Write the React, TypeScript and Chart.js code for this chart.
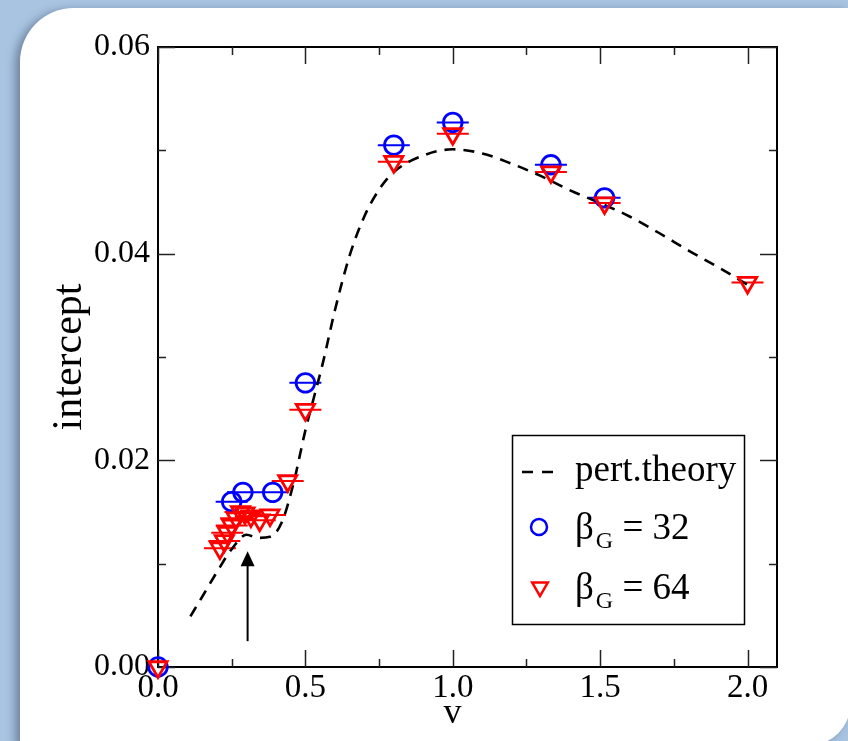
import React, { useEffect, useRef } from "react";
import { Chart, registerables } from "chart.js";

Chart.register(...registerables);

// ---- data ----
const V_32 = [0, 0.25, 0.288, 0.389, 0.5, 0.8, 1.0, 1.333, 1.515];
const INTERCEPT_32 = [0, 0.016, 0.0169, 0.0169, 0.0275, 0.0505, 0.0527, 0.0486, 0.0454];

const V_64 = [0, 0.21, 0.225, 0.235, 0.25, 0.265, 0.28, 0.295, 0.315, 0.345, 0.38, 0.44, 0.5, 0.8, 1.0, 1.333, 1.515, 2.0];
const INTERCEPT_64 = [0, 0.0115, 0.0122, 0.013, 0.0137, 0.0144, 0.015, 0.0149, 0.0146, 0.0142, 0.0147, 0.018, 0.0249, 0.0489, 0.0516, 0.0479, 0.0449, 0.0372];

const V_THEORY = [0.11, 0.15, 0.2, 0.25, 0.3, 0.34, 0.38, 0.42, 0.46, 0.5, 0.53, 0.56, 0.6, 0.65, 0.7, 0.75, 0.8, 0.9, 1.0, 1.1, 1.2, 1.3, 1.4, 1.5, 1.6, 1.7, 1.8, 1.9, 2.0];
const INTERCEPT_THEORY = [0.0049, 0.0068, 0.0092, 0.0114, 0.0128, 0.0125, 0.0126, 0.014, 0.0178, 0.0229, 0.0262, 0.0295, 0.0345, 0.0398, 0.0436, 0.0462, 0.0479, 0.0495, 0.0501, 0.0497, 0.0487, 0.0475, 0.0461, 0.0449, 0.0436, 0.042, 0.0403, 0.0387, 0.037];

const X_TICKS = [0, 0.5, 1.0, 1.5, 2.0];
const X_MINOR = [0.25, 0.75, 1.25, 1.75];
const Y_TICKS = [0, 0.02, 0.04, 0.06];
const Y_MINOR = [0.01, 0.03, 0.05];

const ARROW_V = 0.304;
const ARROW_FROM = 0.0025;
const ARROW_TO = 0.0112;

const LEGEND_THEORY = "pert.theory";
const LEGEND_BETA = "β";
const LEGEND_SUB = "G";
const LEGEND_32 = " = 32";
const LEGEND_64 = " = 64";
const X_TITLE = "v";
const Y_TITLE = "intercept";

const SERIF = '"Liberation Serif", "Times New Roman", Times, serif';
const BLUE = "#0000ff";
const RED = "#ff0000";

const CAP = 16;
const MAJOR = 17;
const MINOR = 8;

const decorPlugin = {
  id: "decor",
  beforeDatasetsDraw(chart: any) {
    const { ctx, chartArea: a } = chart;
    const xs = chart.scales.x;
    const ys = chart.scales.y;
    ctx.save();
    // frame
    ctx.strokeStyle = "#000";
    ctx.lineWidth = 2;
    ctx.strokeRect(a.left, a.top, a.right - a.left, a.bottom - a.top);
    // ticks
    ctx.lineWidth = 1.5;
    ctx.strokeStyle = "#222";
    ctx.beginPath();
    const xt = (vals: number[], len: number) => {
      vals.forEach((v) => {
        const px = Math.round(xs.getPixelForValue(v)) + 0.5;
        ctx.moveTo(px, a.bottom);
        ctx.lineTo(px, a.bottom - len);
        ctx.moveTo(px, a.top);
        ctx.lineTo(px, a.top + len);
      });
    };
    const yt = (vals: number[], len: number) => {
      vals.forEach((v) => {
        const py = Math.round(ys.getPixelForValue(v)) + 0.5;
        ctx.moveTo(a.left, py);
        ctx.lineTo(a.left + len, py);
        ctx.moveTo(a.right, py);
        ctx.lineTo(a.right - len, py);
      });
    };
    xt(X_TICKS, MAJOR);
    xt(X_MINOR, MINOR);
    yt(Y_TICKS, MAJOR);
    yt(Y_MINOR, MINOR);
    ctx.stroke();

    // arrow
    const ax = xs.getPixelForValue(ARROW_V);
    const ay0 = ys.getPixelForValue(ARROW_FROM);
    const ay1 = ys.getPixelForValue(ARROW_TO);
    ctx.strokeStyle = "#000";
    ctx.fillStyle = "#000";
    ctx.lineWidth = 2;
    ctx.beginPath();
    ctx.moveTo(ax, ay0);
    ctx.lineTo(ax, ay1 + 12);
    ctx.stroke();
    ctx.beginPath();
    ctx.moveTo(ax, ay1);
    ctx.lineTo(ax - 7, ay1 + 15);
    ctx.lineTo(ax + 7, ay1 + 15);
    ctx.closePath();
    ctx.fill();

    // error-bar caps
    ctx.lineWidth = 2;
    const caps = (xv: number[], yv: number[], color: string) => {
      ctx.strokeStyle = color;
      ctx.beginPath();
      xv.forEach((v, i) => {
        const px = xs.getPixelForValue(v);
        const py = ys.getPixelForValue(yv[i]);
        ctx.moveTo(px - CAP, py);
        ctx.lineTo(px + CAP, py);
      });
      ctx.stroke();
    };
    caps(V_32.slice(1), INTERCEPT_32.slice(1), BLUE);
    caps(V_64.slice(1), INTERCEPT_64.slice(1), RED);
    ctx.restore();
  },
  afterDatasetsDraw(chart: any) {
    const { ctx, chartArea: a } = chart;
    ctx.save();
    // x title
    ctx.fillStyle = "#000";
    ctx.font = `36px ${SERIF}`;
    ctx.textAlign = "center";
    ctx.textBaseline = "middle";
    ctx.fillText(X_TITLE, (a.left + a.right) / 2 - 15, a.bottom + 47);

    // legend
    const bx = a.right - 265;
    const by = a.bottom - 232;
    const bw = 232;
    const bh = 189;
    ctx.fillStyle = "#fff";
    ctx.fillRect(bx, by, bw, bh);
    ctx.strokeStyle = "#000";
    ctx.lineWidth = 1.5;
    ctx.strokeRect(bx + 0.5, by + 0.5, bw, bh);

    const r1 = by + 37;
    const r2 = by + 92;
    const r3 = by + 152;
    const tx = bx + 63;

    ctx.lineWidth = 2.5;
    ctx.setLineDash([11, 9]);
    ctx.beginPath();
    ctx.moveTo(bx + 10, r1);
    ctx.lineTo(bx + 43, r1);
    ctx.stroke();
    ctx.setLineDash([]);

    ctx.fillStyle = "#000";
    ctx.textAlign = "left";
    ctx.textBaseline = "middle";
    ctx.font = `37px ${SERIF}`;
    ctx.fillText(LEGEND_THEORY, tx, r1 - 1);

    // circle
    ctx.strokeStyle = BLUE;
    ctx.lineWidth = 2.5;
    ctx.beginPath();
    ctx.arc(bx + 27, r2, 8, 0, Math.PI * 2);
    ctx.stroke();
    // triangle
    const tr = 9;
    const tcx = bx + 28;
    ctx.strokeStyle = RED;
    ctx.beginPath();
    ctx.moveTo(tcx, r3 + tr);
    ctx.lineTo(tcx - tr * 0.866, r3 - tr * 0.5);
    ctx.lineTo(tcx + tr * 0.866, r3 - tr * 0.5);
    ctx.closePath();
    ctx.stroke();

    const betaRow = (y: number, rest: string) => {
      ctx.textBaseline = "alphabetic";
      ctx.fillStyle = "#000";
      ctx.font = `37px ${SERIF}`;
      const base = y + 12;
      ctx.fillText(LEGEND_BETA, tx, base);
      let x = tx + ctx.measureText(LEGEND_BETA).width + 2;
      ctx.font = `24px ${SERIF}`;
      ctx.fillText(LEGEND_SUB, x, base + 9);
      x += ctx.measureText(LEGEND_SUB).width;
      ctx.font = `37px ${SERIF}`;
      ctx.fillText(rest, x, base);
    };
    betaRow(r2, LEGEND_32);
    betaRow(r3, LEGEND_64);
    ctx.restore();
  },
};

export default function App() {
  const ref = useRef<HTMLCanvasElement | null>(null);

  useEffect(() => {
    if (!ref.current) return;
    const chart = new Chart(ref.current, {
      type: "scatter",
      data: {
        datasets: [
          {
            label: "beta64",
            data: V_64.map((x, i) => ({ x, y: INTERCEPT_64[i] })),
            pointStyle: "triangle",
            rotation: 180,
            pointRadius: 10.5,
            borderColor: RED,
            backgroundColor: "rgba(0,0,0,0)",
            borderWidth: 2.8,
            clip: false,
            order: 1,
          } as any,
          {
            label: "beta32",
            data: V_32.map((x, i) => ({ x, y: INTERCEPT_32[i] })),
            pointStyle: "circle",
            pointRadius: 9.3,
            borderColor: BLUE,
            backgroundColor: "rgba(0,0,0,0)",
            borderWidth: 2.8,
            clip: false,
            order: 2,
          } as any,
          {
            label: "theory",
            data: V_THEORY.map((x, i) => ({ x, y: INTERCEPT_THEORY[i] })),
            showLine: true,
            borderColor: "#000",
            borderWidth: 2.6,
            borderDash: [11, 8],
            pointRadius: 0,
            cubicInterpolationMode: "monotone",
            clip: false,
            order: 3,
          } as any,
        ],
      },
      options: {
        animation: false,
        responsive: false,
        events: [],
        layout: { padding: { left: 0, top: 47, right: 71, bottom: 0 } },
        plugins: {
          legend: { display: false },
          tooltip: { enabled: false },
        },
        scales: {
          x: {
            type: "linear",
            min: 0,
            max: 2.1,
            grid: { display: false, drawTicks: false },
            border: { display: false },
            afterBuildTicks: (s: any) => {
              s.ticks = X_TICKS.map((v) => ({ value: v }));
            },
            afterFit: (s: any) => {
              s.height = 74;
            },
            ticks: {
              autoSkip: false,
              maxRotation: 0,
              padding: 2,
              color: "#000",
              font: { family: SERIF, size: 33 },
              callback: (v: any) => Number(v).toFixed(1),
            },
          },
          y: {
            type: "linear",
            min: 0,
            max: 0.06,
            grid: { display: false, drawTicks: false },
            border: { display: false },
            afterBuildTicks: (s: any) => {
              s.ticks = Y_TICKS.map((v) => ({ value: v }));
            },
            afterFit: (s: any) => {
              s.width = 158;
            },
            title: {
              display: true,
              text: Y_TITLE,
              color: "#000",
              font: { family: SERIF, size: 42 },
              padding: { top: 45, bottom: 0 },
            },
            ticks: {
              autoSkip: false,
              padding: 8,
              color: "#000",
              font: { family: SERIF, size: 32 },
              callback: (v: any) => Number(v).toFixed(2),
            },
          },
        },
      },
      plugins: [decorPlugin],
    });
    return () => chart.destroy();
  }, []);

  return (
    <div
      style={{
        position: "fixed",
        left: 0,
        top: 0,
        width: 848,
        height: 741,
        overflow: "hidden",
        background: "#a9c4e1",
      }}
    >
      <div
        style={{
          position: "absolute",
          left: 20,
          top: 8,
          width: 830,
          height: 737,
          background: "#ffffff",
          borderTopLeftRadius: 54,
          borderBottomRightRadius: 40,
          boxShadow: "-5px 2px 8px rgba(40,60,90,0.45)",
        }}
      />
      <canvas
        ref={ref}
        width={848}
        height={741}
        style={{ position: "absolute", left: 0, top: 0, width: 848, height: 741 }}
      />
    </div>
  );
}
